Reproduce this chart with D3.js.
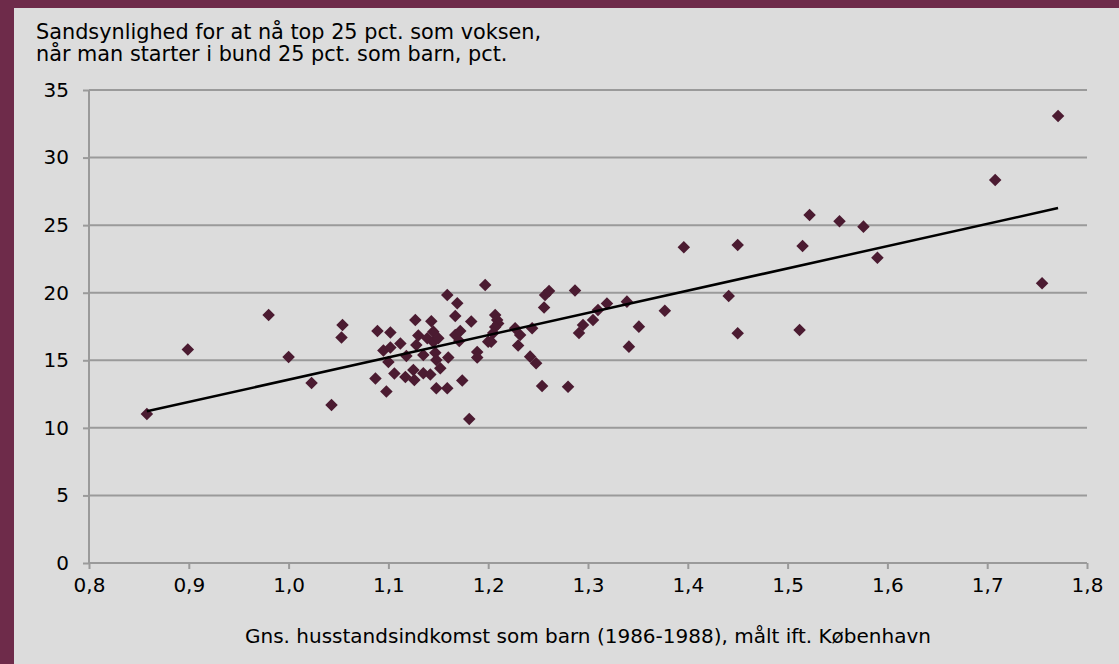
<!DOCTYPE html>
<html>
<head>
<meta charset="utf-8">
<script src="https://cdn.jsdelivr.net/npm/d3@7"></script>
<style>
  html, body { margin: 0; padding: 0; background: #dcdcdc; }
  svg { display: block; }
</style>
</head>
<body>
<svg id="chart" width="1119" height="664"></svg>
<script>
// ---- Data ----
const incomeRatio = [
  0.858, 0.899, 0.980, 1.000, 1.023, 1.043, 1.054, 1.053, 1.089, 1.087,
  1.095, 1.102, 1.098, 1.100, 1.102, 1.106, 1.112, 1.117, 1.118, 1.125,
  1.126, 1.128, 1.127, 1.130, 1.135, 1.135, 1.139, 1.142, 1.143, 1.145,
  1.145, 1.147, 1.148, 1.150, 1.152, 1.148, 1.159, 1.159, 1.160, 1.167,
  1.167, 1.169, 1.171, 1.172, 1.174, 1.183, 1.189, 1.189, 1.197, 1.200,
  1.181, 1.207, 1.209, 1.210, 1.207, 1.205, 1.203, 1.227, 1.232, 1.230,
  1.244, 1.242, 1.248, 1.254, 1.280, 1.256, 1.257, 1.261, 1.287, 1.291,
  1.295, 1.305, 1.310, 1.319, 1.339, 1.341, 1.351, 1.377, 1.396, 1.441,
  1.450, 1.450, 1.512, 1.515, 1.522, 1.552, 1.576, 1.590, 1.708, 1.755,
  1.771
];
const topProbability = [
  11.03, 15.80, 18.35, 15.24, 13.32, 11.69, 17.61, 16.69, 17.17, 13.65,
  15.72, 15.94, 12.69, 14.87, 17.06, 14.02, 16.24, 13.76, 15.32, 14.28,
  13.54, 16.13, 17.98, 16.83, 15.39, 14.04, 16.63, 13.95, 17.89, 17.12,
  16.36, 15.55, 15.02, 16.63, 14.41, 12.93, 19.83, 12.93, 15.21, 18.28,
  16.87, 19.22, 16.43, 17.17, 13.50, 17.87, 15.61, 15.21, 20.57, 16.38,
  10.66, 18.35, 17.98, 17.72, 17.46, 17.02, 16.38, 17.37, 16.87, 16.09,
  17.37, 15.27, 14.78, 13.10, 13.05, 18.91, 19.83, 20.13, 20.16, 17.02,
  17.61, 17.98, 18.72, 19.20, 19.34, 16.01, 17.49, 18.67, 23.36, 19.76,
  23.53, 17.00, 17.24, 23.46, 25.75, 25.28, 24.89, 22.59, 28.34, 20.70,
  33.08
];
const yTicks = [0, 5, 10, 15, 20, 25, 30, 35];
const xTicks = [0.8, 0.9, 1.0, 1.1, 1.2, 1.3, 1.4, 1.5, 1.6, 1.7, 1.8];
const titleLines = [
  "Sandsynlighed for at nå top 25 pct. som voksen,",
  "når man starter i bund 25 pct. som barn, pct."
];
const xTitle = "Gns. husstandsindkomst som barn (1986-1988), målt ift. København";

// ---- Layout ----
const W = 1119, H = 664;
const plot = { left: 89, right: 1087, top: 90, bottom: 563 };
const FONT = "'DejaVu Sans', Verdana, sans-serif";
const gridColor = "#9a9a9a";
const markColor = "#4b1b31";

const svg = d3.select("#chart");

// background and frame
svg.append("rect").attr("x", 0).attr("y", 0).attr("width", W).attr("height", H).attr("fill", "#dcdcdc");
svg.append("rect").attr("x", 0).attr("y", 0).attr("width", W).attr("height", 8).attr("fill", "#6e2b4a");
svg.append("rect").attr("x", 0).attr("y", 0).attr("width", 14).attr("height", H).attr("fill", "#6e2b4a");

const x = d3.scaleLinear().domain([0.8, 1.8]).range([plot.left, plot.right]);
const y = d3.scaleLinear().domain([0, 35]).range([plot.bottom, plot.top]);

const fmt = d => d3.format(".1f")(d).replace(".", ",");

// gridlines
svg.append("g").selectAll("line").data(yTicks.filter(d => d > 0)).join("line")
  .attr("x1", plot.left).attr("x2", plot.right)
  .attr("y1", d => y(d)).attr("y2", d => y(d))
  .attr("stroke", gridColor).attr("stroke-width", 2);

// y axis
const yAxis = svg.append("g").attr("transform", `translate(${plot.left},0)`)
  .call(d3.axisLeft(y).tickValues(yTicks).tickSize(6).tickPadding(14).tickFormat(d3.format("d")));
// x axis
const xAxis = svg.append("g").attr("transform", `translate(0,${plot.bottom})`)
  .call(d3.axisBottom(x).tickValues(xTicks).tickSize(6).tickPadding(9).tickFormat(fmt));

[yAxis, xAxis].forEach(g => {
  g.select(".domain").attr("stroke", gridColor).attr("stroke-width", 2);
  g.selectAll(".tick line").attr("stroke", gridColor).attr("stroke-width", 2);
  g.selectAll(".tick text").attr("fill", "#000").style("font-family", FONT).style("font-size", "20px");
});
yAxis.select(".domain").attr("d", `M0,${plot.top}V${plot.bottom}`);
xAxis.select(".domain").attr("d", `M${plot.left},0H${plot.right}`);

// trend line (least squares fit of the points)
const pts = incomeRatio.map((v, i) => [v, topProbability[i]]);
const mx = d3.mean(incomeRatio), my = d3.mean(topProbability);
const slope = d3.sum(pts, p => (p[0] - mx) * (p[1] - my)) / d3.sum(pts, p => (p[0] - mx) ** 2);
const icpt = my - slope * mx;
const x0 = d3.min(incomeRatio), x1 = d3.max(incomeRatio);

// points
const diamond = d3.symbol().type(d3.symbolDiamond2).size(100);
svg.append("g").selectAll("path").data(pts).join("path")
  .attr("d", diamond)
  .attr("transform", d => `translate(${x(d[0])},${y(d[1])})`)
  .attr("fill", markColor);

// trend line drawn over the markers
svg.append("line")
  .attr("x1", x(x0)).attr("y1", y(icpt + slope * x0))
  .attr("x2", x(x1)).attr("y2", y(icpt + slope * x1))
  .attr("stroke", "#000").attr("stroke-width", 2.5);

// titles
svg.append("text").attr("x", 36).attr("y", 39)
  .style("font-family", FONT).style("font-size", "20.8px").attr("fill", "#000")
  .selectAll("tspan").data(titleLines).join("tspan")
  .attr("x", 36).attr("dy", (d, i) => i === 0 ? 0 : 22).text(d => d);

svg.append("text").attr("x", (plot.left + plot.right) / 2 - 0).attr("y", 643)
  .attr("text-anchor", "middle")
  .style("font-family", FONT).style("font-size", "20px").attr("fill", "#000")
  .text(xTitle);
</script>
</body>
</html>
